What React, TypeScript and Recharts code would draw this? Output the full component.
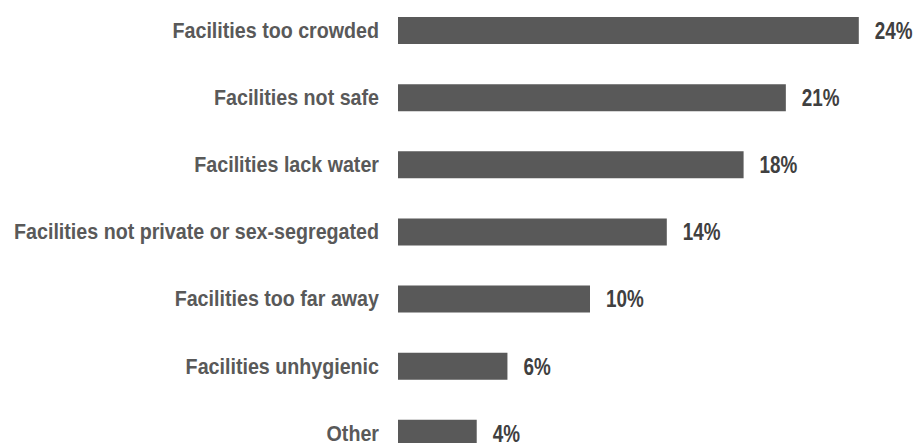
import { BarChart, Bar, XAxis, YAxis, LabelList } from 'recharts'

const reasons = [
  'Facilities too crowded',
  'Facilities not safe',
  'Facilities lack water',
  'Facilities not private or sex-segregated',
  'Facilities too far away',
  'Facilities unhygienic',
  'Other'
]
const shares = [24.0, 20.2, 18.0, 14.0, 10.0, 5.7, 4.1]
const shareLabels = ['24%', '21%', '18%', '14%', '10%', '6%', '4%']

const data = reasons.map((reason, i) => ({ reason, share: shares[i], label: shareLabels[i] }))

const font = '"Liberation Sans", Arial, sans-serif'

// no narrow font installed, so squeeze the bold sans sideways
const ReasonTick = ({ x, y, payload }: any) => (
  <text
    transform={`translate(${x - 11},${y}) scale(0.915,1)`}
    textAnchor="end"
    dy="0.34em"
    fill="#595959"
    fontSize={21.5}
    fontWeight={700}
    fontFamily={font}
  >
    {payload.value}
  </text>
)

const ShareLabel = ({ x, y, width, height, value }: any) => (
  <text
    transform={`translate(${x + width + 16},${y + height / 2}) scale(0.82,1)`}
    textAnchor="start"
    dy="0.36em"
    fill="#404040"
    fontSize={23}
    fontWeight={700}
    fontFamily={font}
  >
    {value}
  </text>
)

const App = () => {
  return (
    <div style={{ position: 'absolute', left: 0, top: 0, width: 916, height: 443, overflow: 'hidden', background: '#fff' }}>
      <BarChart
        width={916}
        height={470}
        data={data}
        layout="vertical"
        margin={{ top: 0, right: 38, left: 0, bottom: 0 }}
        style={{ position: 'absolute', top: -3, left: 0 }}
      >
        <XAxis type="number" domain={[0, 25]} hide />
        <YAxis
          type="category"
          dataKey="reason"
          width={398}
          axisLine={false}
          tickLine={false}
          tick={<ReasonTick />}
        />
        <Bar dataKey="share" fill="#595959" barSize={27} isAnimationActive={false}>
          <LabelList dataKey="label" content={<ShareLabel />} />
        </Bar>
      </BarChart>
    </div>
  )
}

export default App
